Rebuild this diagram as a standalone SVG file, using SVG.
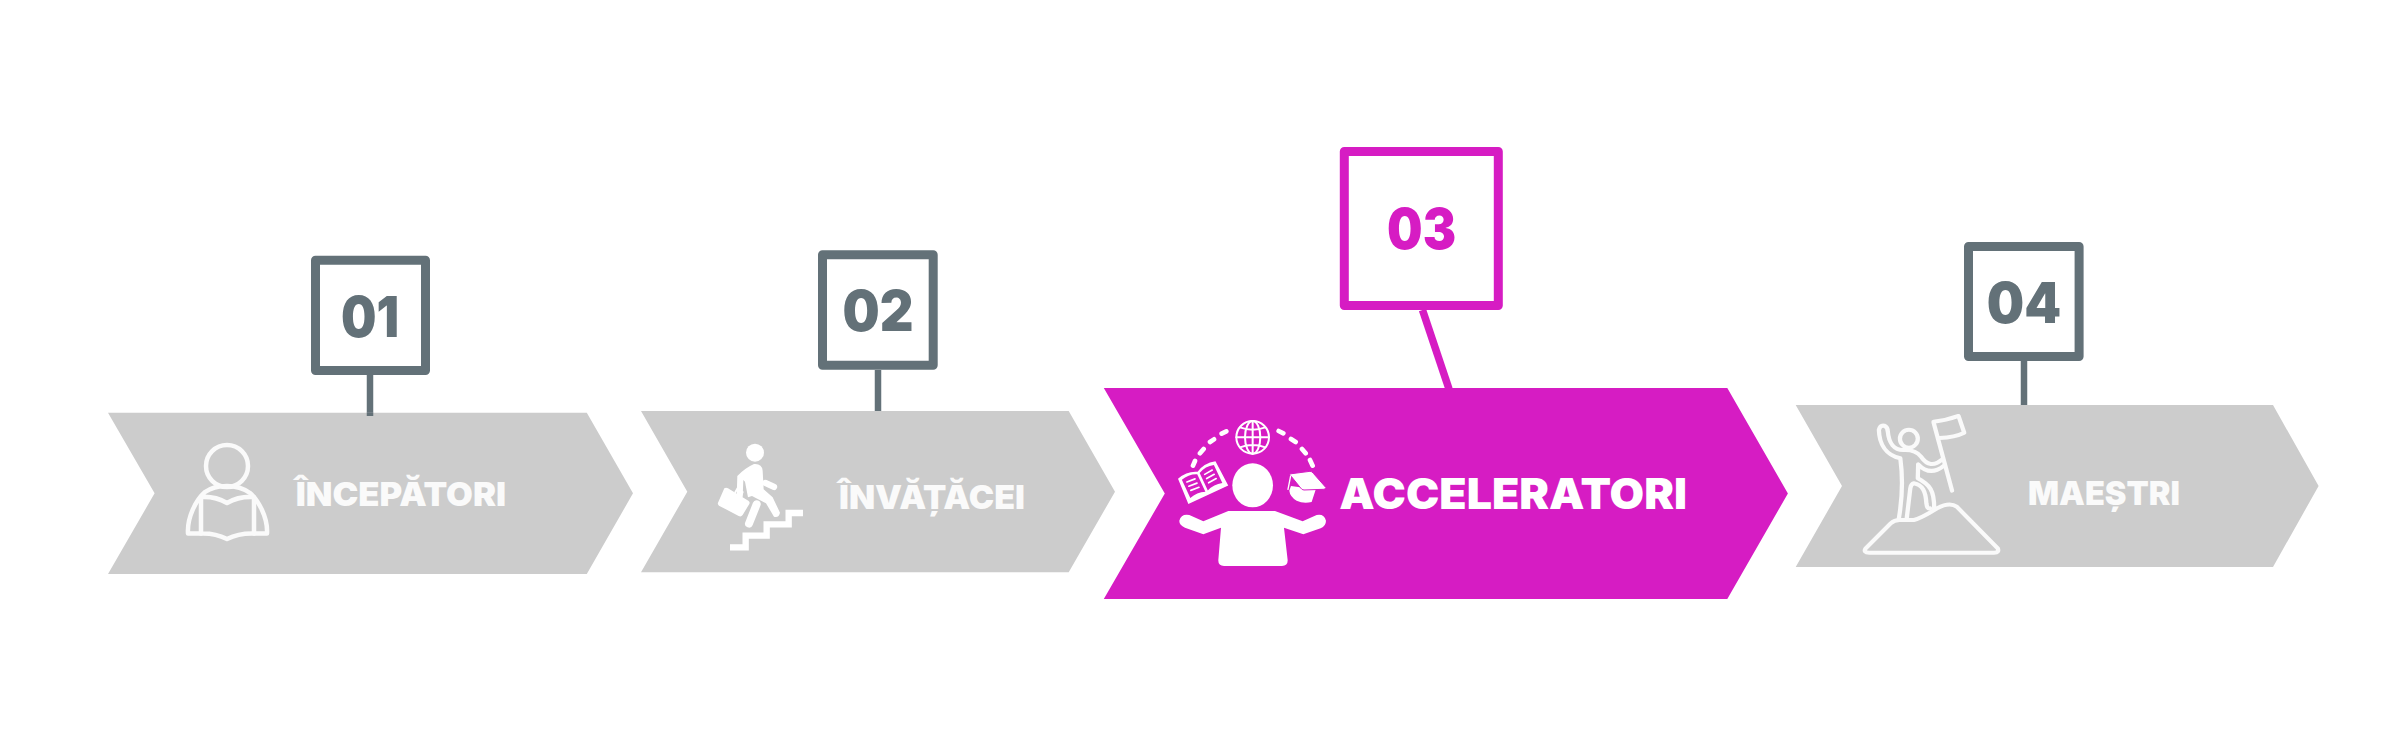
<svg xmlns="http://www.w3.org/2000/svg" width="2400" height="732" viewBox="0 0 2400 732">
<style>
.chev{fill:#ccc}.hot{fill:#d61cc3}
.box{fill:#fff;stroke:#637178;stroke-width:9;stroke-linejoin:round}
.box.m{stroke:#d61cc3}
.num{font-family:Inter,"Open Sans","Liberation Sans",sans-serif;font-weight:900;font-size:56px;fill:#637178}
.num.m{fill:#d61cc3}
.lab{font-family:Inter,"Open Sans","Liberation Sans",sans-serif;font-weight:900;font-size:33px;fill:#fafafa}
.lab.w{fill:#fff;font-size:42px}
.ln{fill:none;stroke:#fafafa;stroke-linecap:round;stroke-linejoin:round}
.fw{fill:#fff}.sw{fill:none;stroke:#fff;stroke-linecap:round;stroke-linejoin:round}
</style>
<rect width="2400" height="732" fill="#fff"/>
<g id="connectors" fill="none" stroke-width="6.5">
<path d="M370 375V416" stroke="#637178"/>
<path d="M878 370V412" stroke="#637178"/>
<path d="M1422.5 310L1449 389" stroke="#d61cc3" stroke-width="7.5"/>
<path d="M2024 361V406" stroke="#637178"/>
</g>
<g id="node-1">
<path class="chev" d="M108 412.7H586.8L633 493.3L586.8 574H108L154.6 493.3Z"/>
<path d="M370 412.7V416" stroke="#637178" stroke-width="6.5"/>
<rect class="box" x="315.5" y="260.2" width="110" height="110.4"/>
<text class="num" x="370" y="336.6" text-anchor="middle" textLength="58" lengthAdjust="spacingAndGlyphs">01</text>
<g class="ln" stroke-width="4.5">
<ellipse cx="227" cy="466" rx="21" ry="21"/>
<path d="M201 533.5H188C187 517 196 500 205 492C212 487 220 486 227 486C235 486 243 488 250 493C258 500 268 517 267 533.5H254"/>
<path d="M201 497Q215 496 227 503Q239 496 254 497V533.5Q239 533 227 539Q215 533 201 533.5Z"/>
</g>
<text class="lab" x="295.7" y="506" textLength="210.5" lengthAdjust="spacingAndGlyphs">ÎNCEPĂTORI</text>
</g>
<g id="node-2">
<path class="chev" d="M641 411H1068.7L1115 491.7L1068.7 572.3H641L687.3 491.7Z"/>
<rect class="box" x="822.5" y="254.8" width="110.7" height="110.4"/>
<text class="num" x="878" y="331" text-anchor="middle" textLength="71" lengthAdjust="spacingAndGlyphs">02</text>
<g transform="translate(630 240) scale(.3333)">
<circle class="fw" cx="375" cy="638" r="27"/>
<path class="fw" d="M322 708Q345 684 372 672Q396 670 398 692L401 748L428 772L450 818Q447 834 432 830L408 790L366 768L354 772L345 725L340 720L338 772H320Z"/>
<path class="sw" stroke-width="19" d="M406 729L432 741"/>
<path class="sw" stroke-width="24" d="M380 793L357 851"/>
<path class="fw" d="M283 745Q288 741 294 745L355 782Q361 786 358 792L338 825Q333 832 326 828L267 797Q261 792 265 786Z"/>
<path class="sw" stroke-width="6" d="M316 757L322 746L338 756L334 766"/>
<path class="sw" style="stroke-linecap:butt;stroke-linejoin:miter" stroke-width="19" d="M300 922H347V887H410V853H476V819H519"/>
</g>
<text class="lab" x="839" y="509" textLength="186" lengthAdjust="spacingAndGlyphs">ÎNVĂȚĂCEI</text>
</g>
<g id="node-3">
<path class="hot" d="M1103.8 388H1727.3L1787.9 493.5L1727.3 599H1103.8L1164.8 493.5Z"/>
<rect class="box m" x="1344.3" y="151.5" width="154" height="154"/>
<text class="num m" x="1421.6" y="249" text-anchor="middle" textLength="69" lengthAdjust="spacingAndGlyphs">03</text>
<g transform="translate(1160 400) scale(.3333)">
<ellipse class="fw" cx="278" cy="256" rx="61" ry="66"/>
<path class="fw" d="M205 333H345L428 364L470 345Q492 340 498 362Q498 378 482 385L430 403L372 383L383 480Q384 498 366 498H192Q174 498 175 480L183 383L130 403L75 383Q57 375 58 362Q64 340 88 345L130 364Z"/>
<path class="sw" stroke-width="14" d="M99 197L105 183M120 160L131 147M150 126L162 118M185 101L199 94M356 93L370 100M393 117L407 126M426 147L437 160M450 180L458 197"/>
<g class="sw" stroke-width="6">
<circle cx="278" cy="112" r="49"/><ellipse cx="278" cy="112" rx="23" ry="49"/>
<path d="M278 63V161M229 112H327M240 82Q278 96 316 82M240 142Q278 128 316 142"/>
</g>
<g transform="rotate(-25 128 248)">
<path class="fw" d="M66 206Q100 196 128 212Q156 196 190 206L194 288H62Z"/>
<path d="M75 214Q100 206 124 218V276Q100 266 75 274ZM132 218Q156 206 181 214V274Q156 266 132 276Z" fill="#d61cc3"/>
<path class="sw" stroke-width="5" d="M86 226L112 228M86 240L112 242M86 254L112 256M144 228L170 226M144 242L170 240M144 256L170 254"/>
</g>
<path class="fw" d="M393 258L420 262L468 266L455 306Q430 312 410 302Q390 290 388 272Z"/>
<path class="fw" d="M388 222L450 214Q456 214 460 220L498 263Q497 268 490 268L432 270Q426 270 422 264Z" stroke="#d61cc3" stroke-width="3"/>
<path class="sw" stroke-width="4" d="M392 228L384 268"/>
</g>
<text class="lab w" x="1339.3" y="509" textLength="347.7" lengthAdjust="spacingAndGlyphs">ACCELERATORI</text>
</g>
<g id="node-4">
<path class="chev" d="M1795.7 405H2273L2318.6 486L2273 567H1795.7L1842 486Z"/>
<rect class="box" x="1968.5" y="246.5" width="110.6" height="110"/>
<text class="num" x="2024" y="323" text-anchor="middle" textLength="74.4" lengthAdjust="spacingAndGlyphs">04</text>
<g class="ln" stroke-width="12" transform="translate(1780 230) scale(.357 .3333)">
<path d="M240 955L310 880Q320 870 335 870H375Q395 865 440 835Q475 815 495 830L610 955Q615 968 600 968H250Q232 968 240 955Z"/>
<ellipse cx="361" cy="626" rx="25" ry="27"/>
<path d="M333 865Q348 770 337 685C295 675 278 640 277 600Q280 585 292 587Q302 592 302 605C305 640 320 660 345 660Q380 658 395 680Q420 720 455 688M458 708Q420 740 387 703L386 745C420 765 432 780 432 835M420 835Q412 838 410 820C408 785 400 765 375 760Q367 762 365 775L355 865"/>
<path d="M430 577L482 782M430 575Q465 572 500 558L516 608Q490 622 447 624"/>
</g>
<text class="lab" x="2028" y="505" textLength="152" lengthAdjust="spacingAndGlyphs">MAEȘTRI</text>
</g>
</svg>
